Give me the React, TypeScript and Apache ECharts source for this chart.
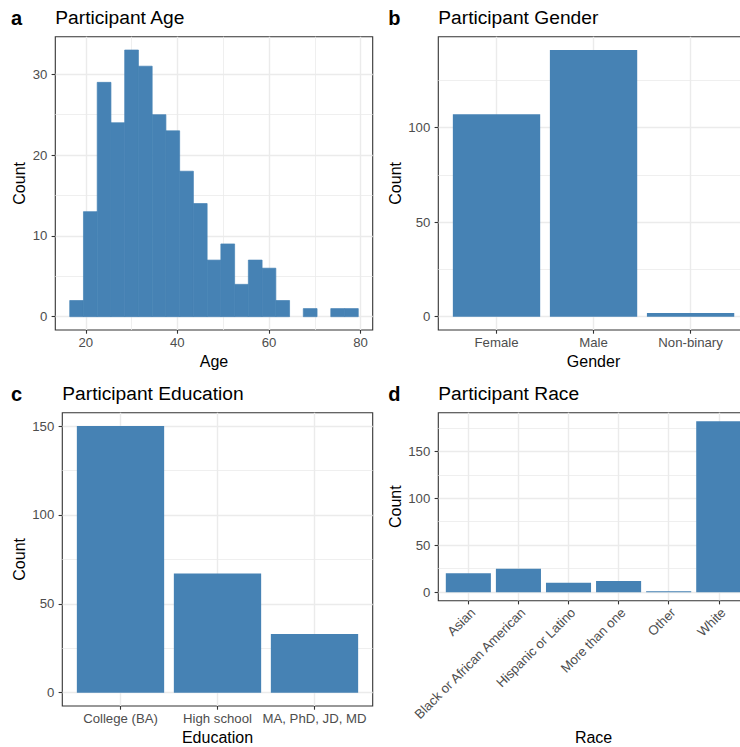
import React, { useEffect, useRef } from "react";
import * as echarts from "echarts";

// ---------- data ----------
const ageBinCenters = [18, 21, 24, 27, 30, 33, 36, 39, 42, 45, 48, 51, 54, 57, 60, 63, 66, 69, 72, 75, 78];
const ageBinWidth = 3;
const ageCounts = [2, 13, 29, 24, 33, 31, 25, 23, 18, 14, 7, 9, 4, 7, 6, 2, 0, 1, 0, 1, 1];
const ageTicks = [20, 40, 60, 80];
const ageMinorTicks = [30, 50, 70];
const ageCountTicks = [0, 10, 20, 30];
const ageCountMinorTicks = [5, 15, 25];

const genderCategories = ["Female", "Male", "Non-binary"];
const genderCounts = [107, 141, 2];
const genderCountTicks = [0, 50, 100];
const genderCountMinorTicks = [25, 75, 125];

const educationCategories = ["College (BA)", "High school", "MA, PhD, JD, MD"];
const educationCounts = [150, 67, 33];
const educationCountTicks = [0, 50, 100, 150];
const educationCountMinorTicks = [25, 75, 125];

const raceCategories = ["Asian", "Black or African American", "Hispanic or Latino", "More than one", "Other", "White"];
const raceCounts = [20, 25, 10, 12, 1, 182];
const raceCountTicks = [0, 50, 100, 150];
const raceCountMinorTicks = [25, 75, 125, 175];

// ---------- styles ----------
const FONT = '"Liberation Sans", Arial, Helvetica, sans-serif';
const BAR = "#4682B4";
const GRID_COLOR = "#EBEBEB";
const AXIS_TEXT = "#4D4D4D";
const BORDER = "#333333";
const TICK_FONT = 13.2;

function catPositions(cats: string[]) {
  return cats.map((_, i) => i + 1);
}

type PanelCfg = {
  letter: string;
  title: string;
  left: number;
  top: number;
  width: number;
  height: number;
  xMin: number;
  xMax: number;
  xTicks: number[];
  xMinor: number[];
  xFormatter: (v: number) => string;
  yMax: number;
  yMin: number;
  yTicks: number[];
  yMinor: number[];
  xName: string;
  xNameGap: number;
  yNameGap: number;
  rotate: number;
  data: number[][];
  halfWidth: number;
  letterX: number;
  titleY: number;
  seamStroke: boolean;
};

function histPanel(): PanelCfg {
  const lo = ageBinCenters[0] - ageBinWidth / 2;
  const hi = ageBinCenters[ageBinCenters.length - 1] + ageBinWidth / 2;
  const pad = (hi - lo) * 0.05;
  const m = Math.max(...ageCounts);
  return {
    letter: "a",
    title: "Participant Age",
    left: 55.3,
    top: 36.7,
    width: 317.4,
    height: 293.3,
    xMin: lo - pad,
    xMax: hi + pad,
    xTicks: ageTicks,
    xMinor: ageMinorTicks,
    xFormatter: (v: number) => String(v),
    yMax: m * 1.05,
    yMin: -m * 0.05,
    yTicks: ageCountTicks,
    yMinor: ageCountMinorTicks,
    xName: "Age",
    xNameGap: 23.5,
    yNameGap: 28,
    rotate: 0,
    data: ageBinCenters.map((c, i) => [c, ageCounts[i]]),
    halfWidth: ageBinWidth / 2,
    letterX: 11,
    titleY: 17.5,
    seamStroke: true,
  };
}

function catPanel(
  letter: string,
  title: string,
  cats: string[],
  counts: number[],
  yTicks: number[],
  yMinor: number[],
  geo: { left: number; top: number; width: number; height: number },
  xName: string,
  xNameGap: number,
  yNameGap: number,
  rotate: number,
  letterX: number,
  titleY: number
): PanelCfg {
  const m = Math.max(...counts);
  const pos = catPositions(cats);
  return {
    letter,
    title,
    ...geo,
    xMin: 0.4,
    xMax: cats.length + 0.6,
    xTicks: pos,
    xMinor: [],
    xFormatter: (v: number) => cats[Math.round(v) - 1] ?? "",
    yMax: m * 1.05,
    yMin: -m * 0.05,
    yTicks,
    yMinor,
    xName,
    xNameGap,
    yNameGap,
    rotate,
    data: pos.map((p, i) => [p, counts[i]]),
    halfWidth: 0.45,
    letterX,
    titleY,
    seamStroke: false,
  };
}

export default function App() {
  const ref = useRef<HTMLDivElement>(null);

  useEffect(() => {
    if (!ref.current) return;
    const chart = echarts.init(ref.current, undefined, { renderer: "svg" });

    const panels: PanelCfg[] = [
      histPanel(),
      catPanel("b", "Participant Gender", genderCategories, genderCounts, genderCountTicks, genderCountMinorTicks,
        { left: 438.3, top: 36.7, width: 310.5, height: 293.3 }, "Gender", 23, 35.3, 0, 388.3, 17.5),
      catPanel("c", "Participant Education", educationCategories, educationCounts, educationCountTicks, educationCountMinorTicks,
        { left: 62.3, top: 412.7, width: 310.4, height: 293.3 }, "Education", 23.5, 35.3, 0, 11, 393.5),
      catPanel("d", "Participant Race", raceCategories, raceCounts, raceCountTicks, raceCountMinorTicks,
        { left: 438.3, top: 412.7, width: 310.5, height: 188 }, "Race", 129, 35.3, 45, 388.3, 393.5),
    ];

    const grid: any[] = [];
    const xAxis: any[] = [];
    const yAxis: any[] = [];
    const series: any[] = [];
    const graphic: any[] = [];

    panels.forEach((p, i) => {
      grid.push({
        left: p.left,
        top: p.top,
        width: p.width,
        height: p.height,
        show: true,
        borderColor: BORDER,
        borderWidth: 1.1,
        backgroundColor: "transparent",
        containLabel: false,
        outerBoundsMode: "none",
      });
      const rotated = p.rotate !== 0;
      // main x axis
      xAxis.push({
        type: "value",
        gridIndex: i,
        position: "bottom",
        min: p.xMin,
        max: p.xMax,
        name: p.xName,
        nameLocation: "middle",
        nameGap: p.xNameGap,
        nameTextStyle: { fontSize: 16, color: "#000", fontFamily: FONT },
        axisLine: { show: false, onZero: false },
        axisTick: { show: true, length: 3.7, customValues: p.xTicks, lineStyle: { color: BORDER, width: 1.1 } },
        axisLabel: {
          show: true,
          customValues: p.xTicks,
          formatter: p.xFormatter,
          color: AXIS_TEXT,
          fontSize: TICK_FONT,
          fontFamily: FONT,
          margin: rotated ? 5 : 5.5,
          rotate: p.rotate,
          hideOverlap: false,
          ...(rotated ? { align: "right", verticalAlign: "top" } : {}),
        },
        splitLine: { show: true, lineStyle: { color: GRID_COLOR, width: 1.4 } },
      });
      // minor x grid axis
      xAxis.push({
        type: "value",
        gridIndex: i,
        min: p.xMin,
        max: p.xMax,
        show: p.xMinor.length > 0,
        axisLine: { show: false, onZero: false },
        axisTick: { show: false, customValues: p.xMinor.length ? p.xMinor : [p.xMin - 100] },
        axisLabel: { show: false, customValues: p.xMinor.length ? p.xMinor : [p.xMin - 100] },
        splitLine: { show: p.xMinor.length > 0, lineStyle: { color: GRID_COLOR, width: 0.8 } },
      });
      // main y axis
      yAxis.push({
        type: "value",
        gridIndex: i,
        position: "left",
        min: p.yMin,
        max: p.yMax,
        name: "Count",
        nameLocation: "middle",
        nameGap: p.yNameGap,
        nameTextStyle: { fontSize: 16, color: "#000", fontFamily: FONT },
        axisLine: { show: false, onZero: false },
        axisTick: { show: true, length: 3.7, customValues: p.yTicks, lineStyle: { color: BORDER, width: 1.1 } },
        axisLabel: {
          show: true,
          customValues: p.yTicks,
          color: AXIS_TEXT,
          fontSize: TICK_FONT,
          fontFamily: FONT,
          margin: 8,
        },
        splitLine: { show: true, lineStyle: { color: GRID_COLOR, width: 1.4 } },
      });
      // minor y grid axis
      yAxis.push({
        type: "value",
        gridIndex: i,
        min: p.yMin,
        max: p.yMax,
        axisLine: { show: false, onZero: false },
        axisTick: { show: false, customValues: p.yMinor },
        axisLabel: { show: false, customValues: p.yMinor },
        splitLine: { show: true, lineStyle: { color: GRID_COLOR, width: 0.8 } },
      });

      const half = p.halfWidth;
      const seam = p.seamStroke;
      series.push({
        type: "custom",
        coordinateSystem: "cartesian2d",
        xAxisIndex: 2 * i,
        yAxisIndex: 2 * i,
        data: p.data,
        z: 3,
        renderItem: (_params: any, api: any) => {
          const c = api.value(0);
          const v = api.value(1);
          const p0 = api.coord([c - half, v]);
          const p1 = api.coord([c + half, 0]);
          return {
            type: "rect",
            shape: { x: p0[0], y: p0[1], width: p1[0] - p0[0], height: p1[1] - p0[1] },
            style: seam && v > 0 ? { fill: BAR, stroke: BAR, lineWidth: 0.7 } : { fill: BAR },
          };
        },
      });

      graphic.push({
        type: "text",
        x: p.letterX,
        y: p.titleY,
        style: {
          text: p.letter,
          fontSize: 20,
          fontWeight: "bold",
          fontFamily: FONT,
          fill: "#000",
          align: "left",
          verticalAlign: "middle",
        },
      });
      graphic.push({
        type: "text",
        x: p.left,
        y: p.titleY,
        style: {
          text: p.title,
          fontSize: 19.2,
          fontFamily: FONT,
          fill: "#000",
          align: "left",
          verticalAlign: "middle",
        },
      });
    });

    chart.setOption({
      animation: false,
      backgroundColor: "#ffffff",
      textStyle: { fontFamily: FONT },
      grid,
      xAxis,
      yAxis,
      series,
      graphic,
    });

    return () => {
      chart.dispose();
    };
  }, []);

  return (
    <div
      ref={ref}
      style={{ position: "absolute", left: 0, top: 0, width: 740, height: 747, overflow: "hidden" }}
    />
  );
}
